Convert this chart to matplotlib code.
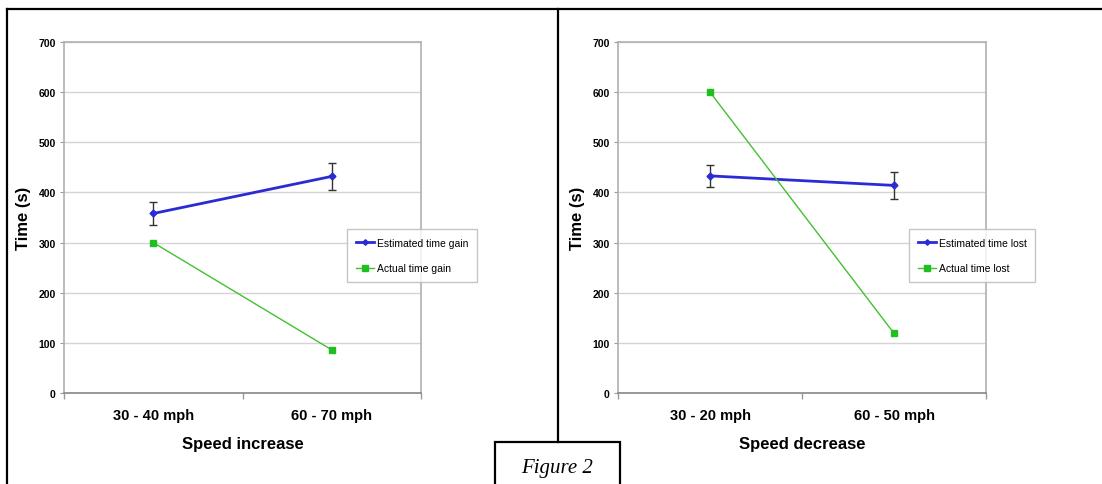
import matplotlib
matplotlib.use("Agg")
import matplotlib.pyplot as plt
from matplotlib.lines import Line2D
from matplotlib.patches import Rectangle

# ===============================
# data
# ===============================
inc_labels = ["30 - 40 mph", "60 - 70 mph"]
inc_estimated = [358, 432]
inc_est_err = [22, 27]
inc_actual = [300, 86]

dec_labels = ["30 - 20 mph", "60 - 50 mph"]
dec_estimated = [433, 414]
dec_est_err = [22, 27]
dec_actual = [600, 119]

plt.rcParams["font.family"] = ["Liberation Sans", "DejaVu Sans"]

W, H = 1102, 485
fig = plt.figure(figsize=(W / 100, H / 100), dpi=100)


def fx(px):
    return px / W


def fy(py):
    return 1 - py / H


def draw_panel(left_px, right_px, labels, est, est_err, act, xlabel, leg_names, leg_left_px):
    ax = fig.add_axes([fx(left_px), fy(394), fx(right_px - left_px), (394 - 43) / H])
    xs = list(range(len(labels)))

    ax.errorbar(xs, est, yerr=est_err, fmt="none", ecolor="#333333",
                elinewidth=1.0, capsize=3, capthick=1.0, zorder=3)
    ax.plot(xs, est, color="#2b2bd6", linewidth=2.0, marker="D", markersize=3.5,
            label=leg_names[0], zorder=4)
    ax.plot(xs, act, color="#44c032", linewidth=1.0, marker="s", markersize=5,
            markerfacecolor="#1fbf1f", markeredgecolor="#1fbf1f",
            label=leg_names[1], zorder=4)

    ax.set_xlim(-0.5, len(labels) - 0.5)
    ax.set_ylim(0, 700)
    ax.set_yticks(range(0, 701, 100))
    ax.yaxis.grid(True, color="#d4d4d4", linewidth=1.0)
    ax.set_axisbelow(True)

    ax.set_xticks(xs)
    ax.set_xticklabels(labels, fontsize=10.5, fontweight="bold")
    ax.set_xticks([x - 0.5 for x in range(len(labels) + 1)], minor=True)
    ax.tick_params(axis="x", which="major", length=0, pad=11)
    ax.tick_params(axis="x", which="minor", length=4, color="#9a9a9a", width=1)
    ax.tick_params(axis="y", length=3, color="#9a9a9a", labelsize=7.5, pad=3)
    for t in ax.get_yticklabels():
        t.set_fontweight("bold")

    for side in ["top", "right", "left"]:
        ax.spines[side].set_color("#b0b0b0")
        ax.spines[side].set_linewidth(1.2)
    ax.spines["bottom"].set_color("#888888")
    ax.spines["bottom"].set_linewidth(1.2)

    ax.set_xlabel(xlabel, fontsize=12, fontweight="bold", labelpad=10)
    ax.set_ylabel("Time (s)", fontsize=12, fontweight="bold", labelpad=5)

    leg = ax.legend(loc="upper left", bbox_to_anchor=(fx(leg_left_px), fy(230)),
                    bbox_transform=fig.transFigure, borderaxespad=0, fontsize=7.5,
                    frameon=True, fancybox=False, edgecolor="#b8b8b8",
                    handlelength=1.7, labelspacing=1.5, borderpad=0.85,
                    handletextpad=0.3, markerscale=0.8)
    leg.get_frame().set_linewidth(1.0)
    return ax


draw_panel(64, 421, inc_labels, inc_estimated, inc_est_err, inc_actual,
           "Speed increase", ["Estimated time gain", "Actual time gain"], 347)
draw_panel(618, 986, dec_labels, dec_estimated, dec_est_err, dec_actual,
           "Speed decrease", ["Estimated time lost", "Actual time lost"], 909)

# ===============================
# page frame lines
# ===============================
lw = 1.6
fig.add_artist(Line2D([fx(7), fx(7)], [fy(10), 0], color="black", linewidth=lw))
fig.add_artist(Line2D([fx(7), 1], [fy(10), fy(10)], color="black", linewidth=lw))
fig.add_artist(Line2D([fx(558), fx(558)], [fy(10), fy(443)], color="black", linewidth=lw))
fig.add_artist(Rectangle((fx(495), -0.01), fx(620 - 495), fy(443) + 0.01,
                         transform=fig.transFigure, facecolor="white",
                         edgecolor="black", linewidth=lw))
fig.text(fx(557), fy(469), "Figure 2", ha="center", va="center", fontsize=15,
         style="italic", family=["Liberation Serif", "DejaVu Serif"])

fig.savefig("out.png", dpi=100)
